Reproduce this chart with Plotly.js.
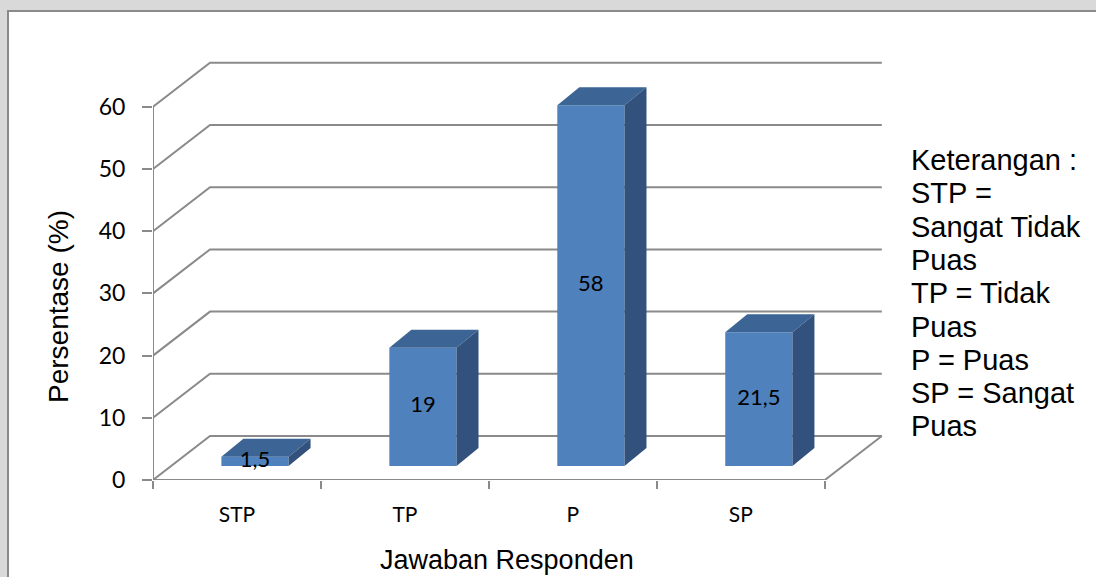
<!DOCTYPE html>
<html>
<head>
<meta charset="utf-8">
<script src="https://cdn.plot.ly/plotly-3.0.1.min.js"></script>
<style>
  html, body { margin: 0; padding: 0; background: #d9d9d9; }
  #chart { width: 1096px; height: 577px; }
</style>
</head>
<body>
<div id="chart"></div>
<script>
// Survey answers and their percentages
const categories = ["STP", "TP", "P", "SP"];
const percentages = [1.5, 19, 58, 21.5];
const yTicks = [0, 10, 20, 30, 40, 50, 60];
const legendLines = [
  "Keterangan :",
  "STP =",
  "Sangat Tidak",
  "Puas",
  "TP = Tidak",
  "Puas",
  "P = Puas",
  "SP = Sangat",
  "Puas"
];

// Page geometry
const W = 1096, H = 577;
const M = { l: 153, r: 204, t: 57, b: 97 };
const X_RANGE = [-0.5, 3.9];
const Y_RANGE = [0, 68];
const plotW = W - M.l - M.r, plotH = H - M.t - M.b;
const pxX = plotW / (X_RANGE[1] - X_RANGE[0]);   // pixels per category
const pxY = plotH / (Y_RANGE[1] - Y_RANGE[0]);   // pixels per percent

// Oblique 3D offsets, expressed in axis units
const BAR_DX = 18 / pxX, BAR_DY = 14 / pxY;     // front face of bars, from front plane
const DEPTH_DX = 22 / pxX, DEPTH_DY = 18 / pxY; // bar depth
const WALL_DX = 57 / pxX, WALL_DY = 44 / pxY;   // back wall, from front plane
const BAR_W = 0.4;
const X_MIN = -0.5, X_MAX = categories.length - 0.5;
const Y_MAX = yTicks[yTicks.length - 1];

const GRID = "#8a8a8a";
const FRONT = "#4f81bd", TOP = "#3c6494", SIDE = "#32527d";
const SANS = "'Liberation Sans', Arial, sans-serif";
const LABEL = "Lato, 'Open Sans', sans-serif";

const px2paperX = p => (p - M.l) / plotW;
const px2paperY = p => (H - M.b - p) / plotH;

// Page frame, then walls and floor drawn behind the bars
const shapes = [
  { type: "rect", xref: "paper", yref: "paper", layer: "below",
    x0: px2paperX(8), x1: px2paperX(W + 10), y0: px2paperY(H + 10), y1: px2paperY(11),
    fillcolor: "#ffffff", line: { color: "#8a8a8a", width: 2 } }
];
function wallLine(xs, ys) {
  const path = xs.map((x, i) => (i ? "L" : "M") + x + "," + ys[i]).join(" ");
  shapes.push({ type: "path", xref: "x", yref: "y", layer: "below", path: path,
    line: { color: GRID, width: 2 } });
}
yTicks.forEach(v => {
  wallLine([X_MIN, X_MIN + WALL_DX, X_MAX + WALL_DX], [v, v + WALL_DY, v + WALL_DY]);
});
wallLine([X_MAX, X_MAX + WALL_DX], [0, WALL_DY]);

const traces = [];
// Front edge of the floor and the value axis
traces.push({ type: "scatter", mode: "lines", x: [X_MIN, X_MAX], y: [0, 0],
  line: { color: GRID, width: 2 }, hoverinfo: "skip", showlegend: false });
traces.push({ type: "scatter", mode: "lines", x: [X_MIN, X_MIN], y: [0, Y_MAX],
  line: { color: GRID, width: 2 }, hoverinfo: "skip", showlegend: false });

// Bar front faces
const barX = categories.map((c, i) => i + BAR_DX);
traces.push({
  type: "bar", x: barX, y: percentages, base: BAR_DY, width: BAR_W,
  marker: { color: FRONT, line: { width: 0 } },
  hoverinfo: "skip", showlegend: false
});

// Bar top and side faces
percentages.forEach((v, i) => {
  const x0 = barX[i] - BAR_W / 2, x1 = barX[i] + BAR_W / 2;
  const t = BAR_DY + v;
  traces.push({ type: "scatter", mode: "lines", fill: "toself",
    x: [x0, x1, x1 + DEPTH_DX, x0 + DEPTH_DX, x0],
    y: [t, t, t + DEPTH_DY, t + DEPTH_DY, t],
    fillcolor: TOP, line: { width: 0, color: TOP }, hoverinfo: "skip", showlegend: false });
  traces.push({ type: "scatter", mode: "lines", fill: "toself",
    x: [x1, x1 + DEPTH_DX, x1 + DEPTH_DX, x1, x1],
    y: [BAR_DY, BAR_DY + DEPTH_DY, t + DEPTH_DY, t, BAR_DY],
    fillcolor: SIDE, line: { width: 0, color: SIDE }, hoverinfo: "skip", showlegend: false });
});

// Value labels on the front faces
traces.push({
  type: "scatter", mode: "text", x: barX,
  y: percentages.map(v => BAR_DY + v / 2),
  text: percentages.map(v => String(v).replace(".", ",")),
  textposition: "middle center",
  textfont: { family: LABEL, size: 22, color: "#000" },
  cliponaxis: false, hoverinfo: "skip", showlegend: false
});

const annotations = [
  { text: "Persentase (%)", xref: "paper", yref: "paper",
    x: px2paperX(58), y: px2paperY(307), textangle: -90, showarrow: false,
    xanchor: "center", yanchor: "middle",
    font: { family: SANS, size: 28, color: "#000" } },
  { text: "Jawaban Responden", xref: "paper", yref: "paper",
    x: px2paperX(507), y: px2paperY(560), showarrow: false,
    xanchor: "center", yanchor: "middle",
    font: { family: SANS, size: 27, color: "#000" } }
];
legendLines.forEach((s, i) => {
  annotations.push({ text: s, xref: "paper", yref: "paper",
    x: px2paperX(909), y: px2paperY(160 + i * 33.3), showarrow: false,
    xanchor: "left", yanchor: "middle", align: "left",
    font: { family: SANS, size: 29, color: "#000" } });
});

const layout = {
  width: W, height: H,
  margin: M,
  paper_bgcolor: "#d9d9d9",
  plot_bgcolor: "rgba(0,0,0,0)",
  separators: ",.",
  showlegend: false,
  barmode: "overlay",
  xaxis: {
    range: X_RANGE, fixedrange: true,
    tickvals: categories.map((c, i) => i), ticktext: categories,
    ticks: "", showgrid: false, zeroline: false, showline: false,
    ticklabelstandoff: 20,
    tickfont: { family: LABEL, size: 21, color: "#000" },
    minor: {
      tickvals: categories.map((c, i) => i - 0.5).concat([X_MAX]),
      ticks: "outside", ticklen: 8, tickwidth: 2, tickcolor: GRID, showgrid: false
    }
  },
  yaxis: {
    range: Y_RANGE, fixedrange: true,
    tickvals: yTicks, ticks: "outside", ticklen: 10, tickwidth: 2, tickcolor: GRID,
    ticklabelstandoff: 12,
    showgrid: false, zeroline: false, showline: false,
    tickfont: { family: LABEL, size: 23, color: "#000" }
  },
  shapes: shapes,
  annotations: annotations
};

Plotly.newPlot("chart", traces, layout, { staticPlot: true, displayModeBar: false });
</script>
</body>
</html>
